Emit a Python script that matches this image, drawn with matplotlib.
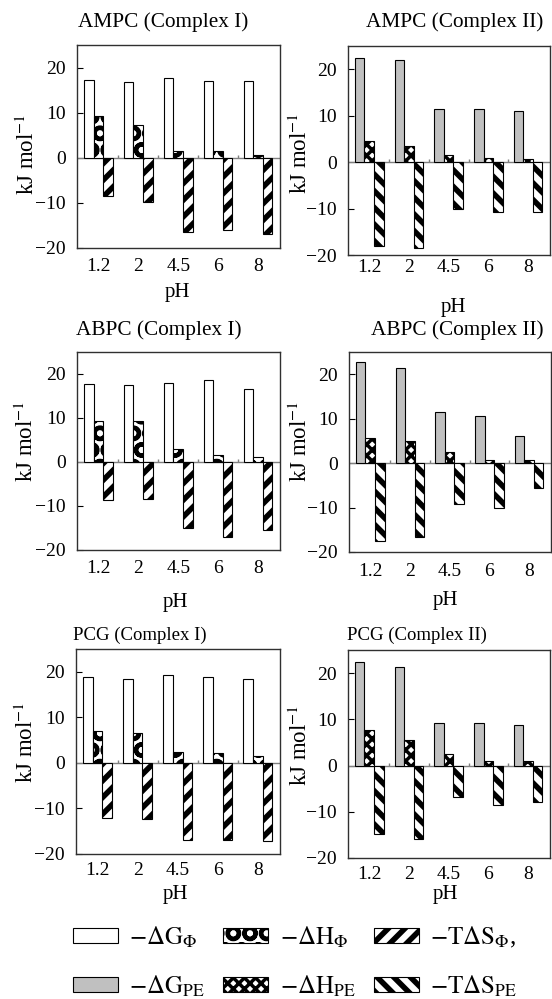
import numpy as np
import matplotlib
matplotlib.use('Agg')
import matplotlib.pyplot as plt

plt.rcParams['font.family'] = ['Liberation Serif', 'DejaVu Serif']
plt.rcParams['mathtext.fontset'] = 'stix'
plt.rcParams['axes.unicode_minus'] = True

# pH categories
ph_labels = ['1.2', '2', '4.5', '6', '8']

# values as plotted (-dG, -dH, -TdS), kJ/mol
ampc1_dG = [17.3, 16.7, 17.6, 17.1, 17.1]
ampc1_dH = [9.2, 7.2, 1.6, 1.4, 0.7]
ampc1_TdS = [-8.4, -9.9, -16.4, -16.1, -16.9]

ampc2_dG = [22.4, 21.9, 11.5, 11.4, 11.1]
ampc2_dH = [4.5, 3.5, 1.6, 0.9, 0.6]
ampc2_TdS = [-18.1, -18.6, -10.1, -10.7, -10.7]

abpc1_dG = [17.7, 17.6, 18.0, 18.6, 16.5]
abpc1_dH = [9.3, 9.3, 3.0, 1.7, 1.2]
abpc1_TdS = [-8.7, -8.5, -14.9, -17.1, -15.4]

abpc2_dG = [22.8, 21.5, 11.4, 10.6, 6.0]
abpc2_dH = [5.6, 5.0, 2.5, 0.8, 0.8]
abpc2_TdS = [-17.5, -16.7, -9.1, -10.0, -5.5]

pcg1_dG = [18.8, 18.5, 19.2, 18.9, 18.5]
pcg1_dH = [7.0, 6.6, 2.4, 2.1, 1.5]
pcg1_TdS = [-12.1, -12.4, -17.0, -17.0, -17.2]

pcg2_dG = [22.3, 21.3, 9.3, 9.3, 8.7]
pcg2_dH = [7.7, 5.6, 2.6, 0.9, 0.9]
pcg2_TdS = [-14.9, -15.8, -6.8, -8.5, -7.9]

titles = ['AMPC (Complex I)', 'AMPC (Complex II)',
          'ABPC (Complex I)', 'ABPC (Complex II)',
          'PCG (Complex I)', 'PCG (Complex II)']

W, H = 552, 999
fig = plt.figure(figsize=(W / 100, H / 100), dpi=100)


def fx(px):
    return px / W


def fy(py):
    return 1 - py / H


# styles: (facecolor, hatch, hatch linewidth)
style_phi = [('white', None, 1), ('white', 'O', 3), ('white', '//', 4)]
style_pe = [('#c0c0c0', None, 1), ('white', 'xxx', 2.5), ('white', '\\\\', 4)]

# panel boxes in pixels: left, top, right, bottom
panels = [
    (ampc1_dG, ampc1_dH, ampc1_TdS, style_phi, (77, 45, 280, 248), (163, 22), (27, 154), (177, 293), 7, 15.3),
    (ampc2_dG, ampc2_dH, ampc2_TdS, style_pe, (348, 46, 550, 255), (455, 22), (300, 153), (453, 307), 3, 15.3),
    (abpc1_dG, abpc1_dH, abpc1_TdS, style_phi, (77, 352, 280, 550), (159, 330), (26, 441), (175, 603), 7, 15.3),
    (abpc2_dG, abpc2_dH, abpc2_TdS, style_pe, (349, 352, 551, 552), (457, 330), (300, 441), (445, 600), 8, 15.3),
    (pcg1_dG, pcg1_dH, pcg1_TdS, style_phi, (76, 649, 280, 854), (140, 635), (26, 742), (175, 894), 6, 13.5),
    (pcg2_dG, pcg2_dH, pcg2_TdS, style_pe, (348, 650, 550, 858), (417, 635), (300, 745), (445, 894), 6, 13.5),
]

x = np.arange(len(ph_labels))
w = 0.24
handles = {}
for k, (dG, dH, TdS, sty, box, tpos, ypos, xpos, pad, tsize) in enumerate(panels):
    l, t, r, b = box
    ax = fig.add_axes([fx(l), fy(b), fx(r - l), (b - t) / H])
    bars = []
    for j, vals in enumerate([dG, dH, TdS]):
        fc, hatch, hlw = sty[j]
        bc = ax.bar(x + (j - 1) * w, vals, w, color=fc, edgecolor='black',
                    linewidth=0.8, hatch=hatch, zorder=3)
        for p in bc:
            if hasattr(p, 'set_hatch_linewidth'):
                p.set_hatch_linewidth(hlw)
        bars.append(bc)
    if k == 0:
        handles['phi'] = bars
    if k == 1:
        handles['pe'] = bars
    ax.axhline(0, color='#808080', linewidth=1, zorder=2)
    ax.vlines(x[:-1] + 0.5, 0, 0.6, color='#808080', linewidth=1, zorder=2)
    ax.set_xlim(-0.535, 4.55)
    ax.set_ylim(-20, 25)
    ax.set_yticks([-20, -10, 0, 10, 20])
    ax.set_xticks(x)
    ax.set_xticklabels(ph_labels)
    ax.tick_params(axis='y', direction='in', length=4, labelsize=14, pad=8)
    ax.tick_params(axis='x', length=0, labelsize=14, pad=pad)
    for s in ax.spines.values():
        s.set_color('#303030')
        s.set_linewidth(1)
    fig.text(fx(tpos[0]), fy(tpos[1]), titles[k], ha='center', va='center', fontsize=tsize)
    fig.text(fx(ypos[0]), fy(ypos[1]), 'kJ mol$^{-1}$', ha='center', va='center',
             rotation=90, fontsize=16.5)
    fig.text(fx(xpos[0]), fy(xpos[1]), 'pH', ha='center', va='center', fontsize=15)

labels = [r'$-\Delta\mathrm{G}_{\Phi}$', r'$-\Delta\mathrm{G}_{\mathrm{PE}}$',
          r'$-\Delta\mathrm{H}_{\Phi}$', r'$-\Delta\mathrm{H}_{\mathrm{PE}}$',
          r'$-\mathrm{T}\Delta\mathrm{S}_{\Phi}$,', r'$-\mathrm{T}\Delta\mathrm{S}_{\mathrm{PE}}$']
hs = [handles['phi'][0], handles['pe'][0], handles['phi'][1], handles['pe'][1],
      handles['phi'][2], handles['pe'][2]]
leg = fig.legend(hs, labels, ncol=3, loc='upper left', bbox_to_anchor=(fx(60), fy(912)),
                 frameon=False, fontsize=18, handlelength=1.8, handleheight=0.55,
                 handletextpad=0.45, columnspacing=0.75, labelspacing=0.95, borderpad=0)
# legend swatches: keep the thick hatch of the bars
leg_lw = [1, 1, 3, 2.5, 4, 4]
for lh, lw in zip(leg.legend_handles, leg_lw):
    if hasattr(lh, 'set_hatch_linewidth'):
        lh.set_hatch_linewidth(lw)

fig.savefig('out.png', dpi=100)
